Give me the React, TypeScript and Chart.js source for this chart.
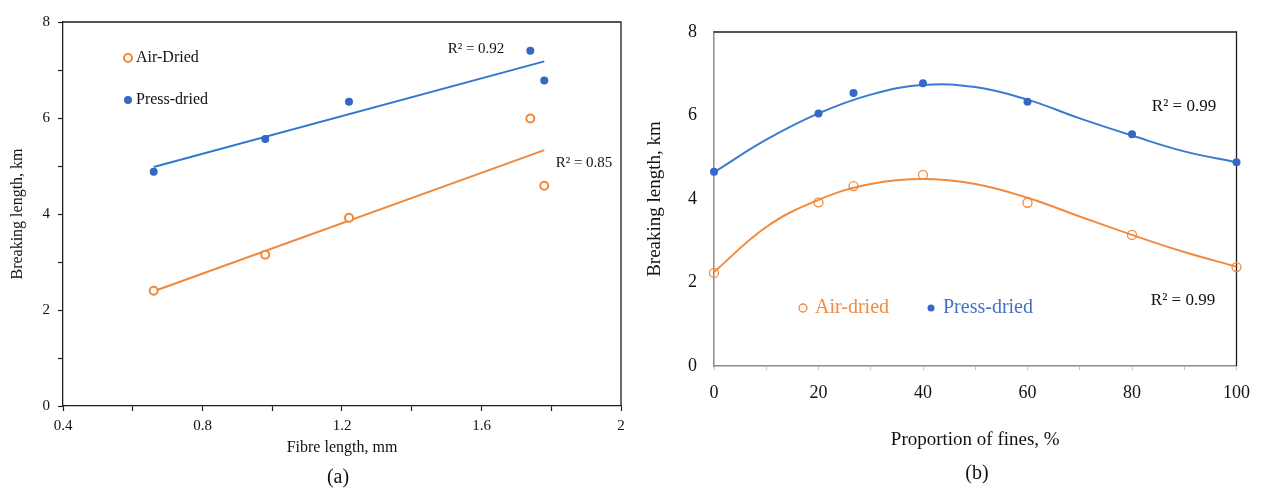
import React, { useEffect, useRef } from "react";
import { Chart, registerables } from "chart.js";

Chart.register(...registerables);

const FONT = "'Liberation Serif', 'Times New Roman', serif";

// ---- Panel (a): breaking length vs fibre length ----
const fibreLength = [0.66, 0.98, 1.22, 1.74, 1.78];
const airDriedA = [2.4, 3.15, 3.92, 5.99, 4.59];
const pressDriedA = [4.88, 5.56, 6.34, 7.4, 6.78];
const trendXA = [0.66, 1.78];
const airTrendA = [2.39, 5.33];
const pressTrendA = [4.98, 7.18];

// ---- Panel (b): breaking length vs proportion of fines ----
const finesProportion = [0, 20, 26.7, 40, 60, 80, 100];
const airDriedB = [2.23, 3.92, 4.31, 4.58, 3.91, 3.14, 2.37];
const pressDriedB = [4.65, 6.05, 6.54, 6.77, 6.33, 5.55, 4.88];
const fitXB = [0, 10, 20, 30, 40, 50, 60, 70, 80, 90, 100];
const airFitB = [2.25, 3.33, 3.98, 4.36, 4.48, 4.36, 4.03, 3.58, 3.14, 2.73, 2.38];
const pressFitB = [4.64, 5.42, 6.05, 6.5, 6.73, 6.68, 6.38, 5.93, 5.52, 5.14, 4.88];

const labelsA = { x: "Fibre length, mm", y: "Breaking length, km", air: "Air-Dried", press: "Press-dried", r2Press: "R² = 0.92", r2Air: "R² = 0.85" };
const labelsB = { x: "Proportion of fines, %", y: "Breaking length, km", air: "Air-dried", press: "Press-dried", r2Press: "R² = 0.99", r2Air: "R² = 0.99" };

const ORANGE_A = "#F0883A";
const BLUE_A = "#2F78CF";
const BLUE_DOT_A = "#3568C2";
const ORANGE_B = "#F28A3E";
const BLUE_B = "#3A7BD2";
const BLUE_DOT_B = "#3568C2";

const pts = (xs: number[], ys: number[]) => xs.map((x, i) => ({ x, y: ys[i] }));

type Item =
  | { kind: "text"; x: number; y: number; text: string; color: string; size: number; align: CanvasTextAlign }
  | { kind: "dot"; x: number; y: number; r: number; fill: string; stroke: string; lw: number };

const annotatePlugin = (items: Item[]) => ({
  id: "annot",
  afterDatasetsDraw(chart: any) {
    const ctx = chart.ctx as CanvasRenderingContext2D;
    ctx.save();
    items.forEach((it) => {
      if (it.kind === "text") {
        ctx.font = `${it.size}px ${FONT}`;
        ctx.fillStyle = it.color;
        ctx.textAlign = it.align;
        ctx.textBaseline = "middle";
        ctx.fillText(it.text, it.x, it.y);
      } else {
        ctx.beginPath();
        ctx.arc(it.x, it.y, it.r, 0, Math.PI * 2);
        ctx.fillStyle = it.fill;
        ctx.fill();
        if (it.lw > 0) {
          ctx.lineWidth = it.lw;
          ctx.strokeStyle = it.stroke;
          ctx.stroke();
        }
      }
    });
    ctx.restore();
  },
});

const framePlugin = (color: string, width: number) => ({
  id: "frame",
  beforeDatasetsDraw(chart: any) {
    const { ctx, chartArea: a } = chart;
    ctx.save();
    ctx.strokeStyle = color;
    ctx.lineWidth = width;
    ctx.beginPath();
    ctx.moveTo(a.left, a.top);
    ctx.lineTo(a.right, a.top);
    ctx.lineTo(a.right, a.bottom);
    ctx.stroke();
    ctx.restore();
  },
});

function makeChartA(canvas: HTMLCanvasElement) {
  const axisColor = "#1e1e1e";
  return new Chart(canvas, {
    type: "scatter",
    data: {
      datasets: [
        { data: pts(trendXA, pressTrendA), showLine: true, borderColor: BLUE_A, borderWidth: 2, pointRadius: 0, order: 3 },
        { data: pts(trendXA, airTrendA), showLine: true, borderColor: ORANGE_A, borderWidth: 2, pointRadius: 0, order: 3 },
        { data: pts(fibreLength, pressDriedA), pointRadius: 4, backgroundColor: BLUE_DOT_A, borderColor: BLUE_DOT_A, borderWidth: 0, clip: false, order: 1 },
        { data: pts(fibreLength, airDriedA), pointRadius: 4, backgroundColor: "#ffffff", borderColor: ORANGE_A, borderWidth: 2, clip: false, order: 1 },
      ],
    },
    options: {
      animation: false,
      responsive: false,
      events: [],
      layout: { padding: { left: 0, right: 19, top: 22, bottom: 32 } },
      plugins: { legend: { display: false }, tooltip: { enabled: false } },
      scales: {
        x: {
          type: "linear",
          min: 0.4,
          max: 2,
          afterFit: (s: any) => { s.height = 51; },
          ticks: {
            stepSize: 0.2,
            autoSkip: false,
            maxRotation: 0,
            padding: 6,
            color: "#111",
            font: { family: FONT, size: 15 },
            callback: (v: any) => (Math.round(Number(v) * 10) % 4 === 0 ? String(Math.round(Number(v) * 10) / 10) : ""),
          },
          grid: { drawOnChartArea: false, drawTicks: true, tickLength: 5, color: axisColor, tickColor: axisColor, tickWidth: 1.2 },
          border: { color: axisColor, width: 1.3 },
          title: { display: true, text: labelsA.x, color: "#111", font: { family: FONT, size: 16 }, padding: 0 },
        },
        y: {
          type: "linear",
          min: 0,
          max: 8,
          afterFit: (s: any) => { s.width = 63; },
          ticks: {
            stepSize: 1,
            autoSkip: false,
            padding: 8,
            color: "#111",
            font: { family: FONT, size: 15 },
            callback: (v: any) => (Number(v) % 2 === 0 ? String(v) : ""),
          },
          grid: { drawOnChartArea: false, drawTicks: true, tickLength: 5, color: axisColor, tickColor: axisColor, tickWidth: 1.2 },
          border: { color: axisColor, width: 1.3 },
          title: { display: true, text: labelsA.y, color: "#111", font: { family: FONT, size: 16 }, padding: { top: 8, bottom: 0 } },
        },
      },
    },
    plugins: [
      framePlugin(axisColor, 1.3),
      annotatePlugin([
        { kind: "dot", x: 128, y: 58, r: 4, fill: "#ffffff", stroke: ORANGE_A, lw: 2 },
        { kind: "text", x: 136, y: 58, text: labelsA.air, color: "#111", size: 16, align: "left" },
        { kind: "dot", x: 128, y: 100, r: 4, fill: BLUE_DOT_A, stroke: BLUE_DOT_A, lw: 0 },
        { kind: "text", x: 136, y: 100, text: labelsA.press, color: "#111", size: 16, align: "left" },
        { kind: "text", x: 476, y: 49, text: labelsA.r2Press, color: "#111", size: 15, align: "center" },
        { kind: "text", x: 584, y: 163, text: labelsA.r2Air, color: "#111", size: 15, align: "center" },
      ]),
    ],
  } as any);
}

function makeChartB(canvas: HTMLCanvasElement) {
  const grey = "#8c8c8c";
  return new Chart(canvas, {
    type: "scatter",
    data: {
      datasets: [
        { data: pts(fitXB, pressFitB), showLine: true, tension: 0.4, borderColor: BLUE_B, borderWidth: 2, pointRadius: 0, order: 3 },
        { data: pts(fitXB, airFitB), showLine: true, tension: 0.4, borderColor: ORANGE_B, borderWidth: 2, pointRadius: 0, order: 3 },
        { data: pts(finesProportion, pressDriedB), pointRadius: 4, backgroundColor: BLUE_DOT_B, borderColor: BLUE_DOT_B, borderWidth: 0, clip: false, order: 1 },
        { data: pts(finesProportion, airDriedB), pointRadius: 4.5, backgroundColor: "rgba(255,255,255,0)", borderColor: ORANGE_B, borderWidth: 1.3, clip: false, order: 1 },
      ],
    },
    options: {
      animation: false,
      responsive: false,
      events: [],
      layout: { padding: { left: 0, right: 17, top: 32, bottom: 38 } },
      plugins: { legend: { display: false }, tooltip: { enabled: false } },
      scales: {
        x: {
          type: "linear",
          min: 0,
          max: 100,
          afterFit: (s: any) => { s.height = 85; },
          ticks: {
            stepSize: 10,
            autoSkip: false,
            maxRotation: 0,
            padding: 12,
            color: "#111",
            font: { family: FONT, size: 18 },
            callback: (v: any) => (Number(v) % 20 === 0 ? String(v) : ""),
          },
          grid: { drawOnChartArea: false, drawTicks: true, tickLength: 4, color: "#c4c4c4", tickColor: "#c4c4c4" },
          border: { color: grey, width: 1.5 },
          title: { display: true, text: labelsB.x, color: "#111", font: { family: FONT, size: 19 }, padding: 0 },
        },
        y: {
          type: "linear",
          min: 0,
          max: 8,
          afterFit: (s: any) => { s.width = 74; },
          ticks: {
            stepSize: 2,
            autoSkip: false,
            padding: 17,
            color: "#111",
            font: { family: FONT, size: 18 },
          },
          grid: { drawOnChartArea: false, drawTicks: false },
          border: { color: grey, width: 1.5 },
          title: { display: true, text: labelsB.y, color: "#111", font: { family: FONT, size: 19 }, padding: { top: 4, bottom: 0 } },
        },
      },
    },
    plugins: [
      framePlugin("#1e1e1e", 1.3),
      annotatePlugin([
        { kind: "dot", x: 163, y: 308, r: 4, fill: "#ffffff", stroke: ORANGE_B, lw: 1.3 },
        { kind: "text", x: 175, y: 308, text: labelsB.air, color: ORANGE_B, size: 20, align: "left" },
        { kind: "dot", x: 291, y: 308, r: 3.5, fill: BLUE_DOT_B, stroke: BLUE_DOT_B, lw: 0 },
        { kind: "text", x: 303, y: 308, text: labelsB.press, color: "#4472C4", size: 20, align: "left" },
        { kind: "text", x: 544, y: 107, text: labelsB.r2Press, color: "#111", size: 17, align: "center" },
        { kind: "text", x: 543, y: 301, text: labelsB.r2Air, color: "#111", size: 17, align: "center" },
      ]),
    ],
  } as any);
}

export default function App() {
  const refA = useRef<HTMLCanvasElement>(null);
  const refB = useRef<HTMLCanvasElement>(null);

  useEffect(() => {
    const a = makeChartA(refA.current!);
    const b = makeChartB(refB.current!);
    return () => {
      a.destroy();
      b.destroy();
    };
  }, []);

  const caption: React.CSSProperties = {
    position: "absolute",
    width: 60,
    textAlign: "center",
    fontFamily: FONT,
    fontSize: 20,
    lineHeight: "24px",
    color: "#111",
  };

  return (
    <div style={{ position: "absolute", left: 0, top: 0, width: 1262, height: 489, background: "#fff", overflow: "hidden" }}>
      <canvas ref={refA} width={640} height={489} style={{ position: "absolute", left: 0, top: 0, width: 640, height: 489 }} />
      <canvas ref={refB} width={622} height={489} style={{ position: "absolute", left: 640, top: 0, width: 622, height: 489 }} />
      <div style={{ ...caption, left: 338 - 30, top: 476 - 12 }}>(a)</div>
      <div style={{ ...caption, left: 977 - 30, top: 472 - 12 }}>(b)</div>
    </div>
  );
}
